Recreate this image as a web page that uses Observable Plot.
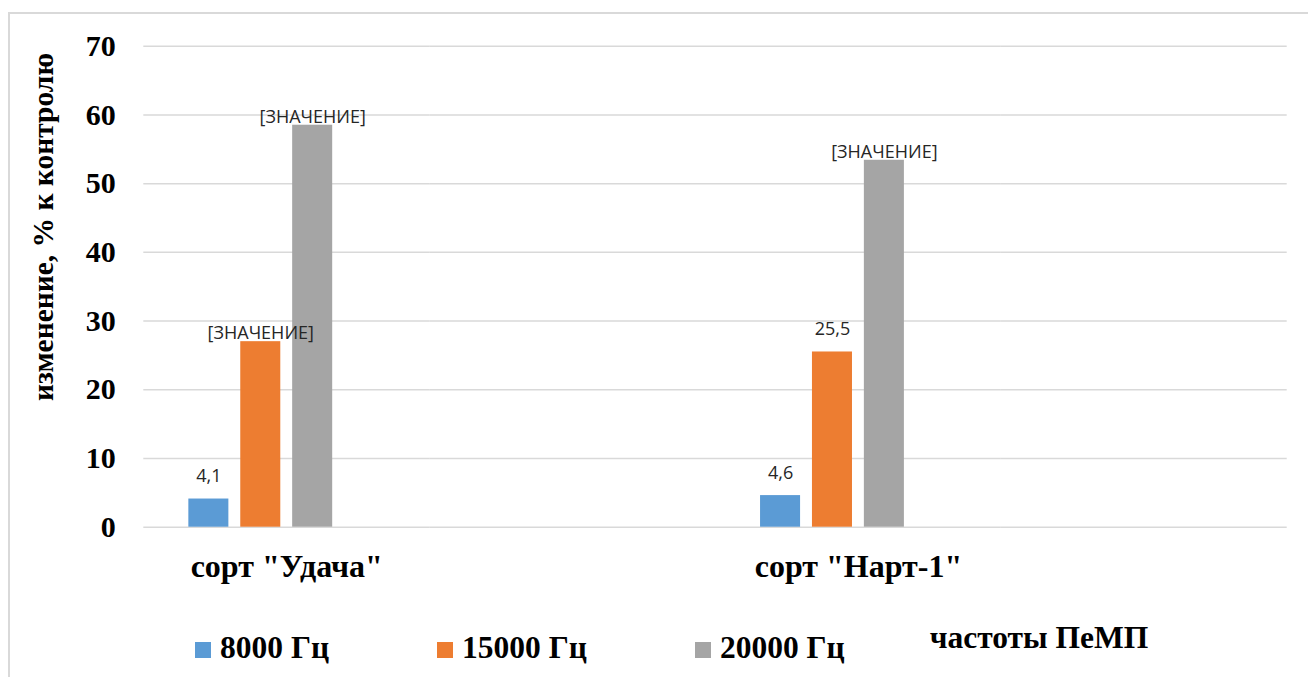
<!DOCTYPE html>
<html lang="ru">
<head>
<meta charset="utf-8">
<script src="https://cdn.jsdelivr.net/npm/d3@7"></script>
<script src="https://cdn.jsdelivr.net/npm/@observablehq/plot@0.6"></script>
<style>
  html, body { margin: 0; padding: 0; background: #fff; }
  #page { position: relative; width: 1308px; height: 677px; overflow: hidden; background: #fff; }
  #frame { position: absolute; left: 8px; top: 12px; width: 1400px; height: 800px;
           border: 2px solid #d9d9d9; box-sizing: border-box; }
  #chart { position: absolute; left: 0; top: 0; }
  #ytitle { position: absolute; left: 44px; top: 227px; transform: translate(-50%, -50%) rotate(-90deg);
            white-space: nowrap; font: bold 29.5px "Liberation Serif", "Times New Roman", serif; color: #000; line-height: 1; }
  #legend { position: absolute; left: 195px; top: 633px; display: flex; align-items: baseline;
            font: bold 31.5px "Liberation Serif", "Times New Roman", serif; color: #000; line-height: 30px; white-space: nowrap; }
  #legend .item { display: inline-flex; align-items: baseline; margin-right: 108px; }
  #legend .swatch { display: inline-block; width: 16px; height: 16px; margin-bottom: 4px; margin-right: 9px; }
  #legend .item.empty { position: relative; top: -10px; margin-left: -23px; }
</style>
</head>
<body>
<div id="page">
  <div id="frame"></div>
  <div id="chart"></div>
  <div id="ytitle"></div>
  <div id="legend"></div>
</div>
<script>
// Varieties on the category axis
const categories = ['сорт "Удача"', 'сорт "Нарт-1"'];
// Field frequencies (series); the last one has no bars, only a legend entry
const series = ["8000 Гц", "15000 Гц", "20000 Гц", "частоты ПеМП"];
// Change relative to control, %
const valuesUdacha = [4.1, 27.0, 58.5];
const valuesNart = [4.6, 25.5, 53.4];
// Bars whose data label shows the unfilled field placeholder instead of the number
const placeholderUdacha = [false, true, true];
const placeholderNart = [false, false, true];
const placeholderText = "[ЗНАЧЕНИЕ]";
const yTicks = [0, 10, 20, 30, 40, 50, 60, 70];
const yTitle = "изменение, % к контролю";

const seriesColors = ["#5b9bd5", "#ed7d31", "#a5a5a5", "transparent"];

// Category slots: each variety is followed by an empty slot
const slots = [categories[0], "", categories[1], " "];

const values = [valuesUdacha, valuesNart];
const placeholders = [placeholderUdacha, placeholderNart];
const rows = categories.flatMap((cat, ci) =>
  values[ci].map((v, si) => ({cat, series: series[si], value: v, placeholder: placeholders[ci][si]}))
);
const gridRows = slots.flatMap(slot => yTicks.map(tick => ({slot, tick})));

const fmt = v => d3.format(".1f")(v).replace(".", ",");

const W = 1308, H = 600;
const mL = 143.3, mR = 21.3, mT = 45.7, mB = 73.3;
const fxPadInner = 0.232;
const step = (W - mL - mR) / slots.length;
const halfGap = step * fxPadInner / 2;

const serif = '"Liberation Serif", "Times New Roman", serif';
const sans = '"Open Sans", "Liberation Sans", sans-serif';

const chart = Plot.plot({
  width: W,
  height: H,
  marginLeft: mL,
  marginRight: mR,
  marginTop: mT,
  marginBottom: mB,
  style: {background: "transparent", overflow: "visible"},
  fx: {domain: slots, paddingInner: fxPadInner, paddingOuter: fxPadInner / 2, round: false, axis: null, label: null},
  x: {domain: series, padding: 0.229, round: false, axis: null},
  y: {domain: [0, 70], axis: null},
  color: {domain: series, range: seriesColors},
  marks: [
    // horizontal gridlines, stretched across the gaps between slots
    Plot.ruleY(gridRows, {fx: "slot", y: "tick", stroke: "#d9d9d9", strokeWidth: 1.5,
                          insetLeft: -halfGap, insetRight: -halfGap}),
    Plot.barY(rows, {fx: "cat", x: "series", y: "value", fill: "series"}),
    Plot.text(rows.filter(d => !d.placeholder), {
      fx: "cat", x: "series", y: "value", text: d => fmt(d.value),
      dy: -17, lineAnchor: "bottom", fontSize: 18, fontFamily: sans, fill: "#262626"
    }),
    Plot.text(rows.filter(d => d.placeholder), {
      fx: "cat", x: "series", y: "value", text: () => placeholderText,
      dy: -2.5, lineAnchor: "bottom", fontSize: 18, fontFamily: sans, fill: "#262626"
    }),
    Plot.axisY({ticks: yTicks, tickSize: 0, tickPadding: 28 + halfGap, label: null,
                fontSize: 30, fontWeight: "bold", fontFamily: serif, fill: "#000"}),
    Plot.axisFx({anchor: "bottom", tickSize: 0, tickPadding: 27, label: null,
                 fontSize: 32, fontWeight: "bold", fontFamily: serif, fill: "#000"})
  ]
});
document.getElementById("chart").append(chart);

document.getElementById("ytitle").textContent = yTitle;

// Legend below the chart
const legend = document.getElementById("legend");
series.forEach((name, i) => {
  const empty = seriesColors[i] === "transparent";
  const item = document.createElement("span");
  item.className = "item" + (empty ? " empty" : "");
  if (!empty) {
    const sw = document.createElement("span");
    sw.className = "swatch";
    sw.style.background = seriesColors[i];
    item.append(sw);
  }
  const label = document.createElement("span");
  label.textContent = name;
  item.append(label);
  legend.append(item);
});
</script>
</body>
</html>
